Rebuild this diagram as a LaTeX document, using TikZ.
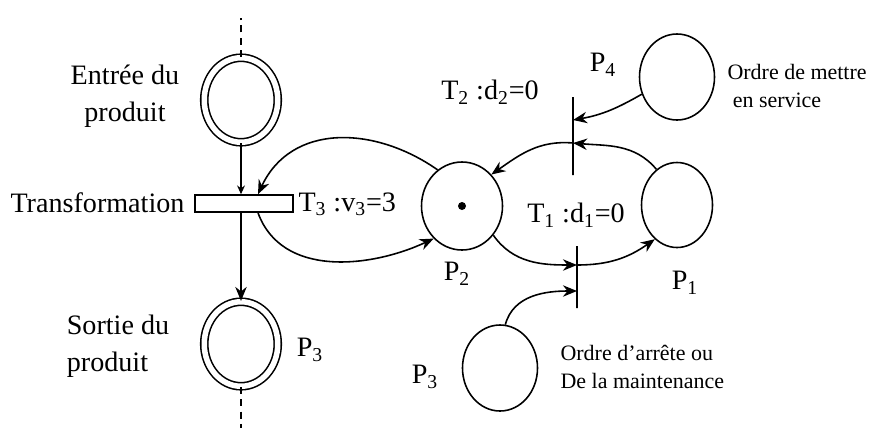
\documentclass[tikz,border=0pt]{standalone}
\usepackage{fontspec}
\setmainfont{Liberation Serif}
\usetikzlibrary{arrows.meta,shapes.geometric}

\begin{document}
\begin{tikzpicture}[>={Stealth[length=8pt,width=6.5pt]}, line width=0.9pt,
  place/.style={draw, ellipse, minimum width=1.5cm, minimum height=1.72cm, inner sep=0pt},
  inplace/.style={place, double, double distance=1.1mm, minimum width=1.47cm, minimum height=1.69cm},
  bar/.style={draw, rectangle, minimum width=0pt, inner sep=0pt},
  lbl/.style={font=\fontsize{16}{21}\selectfont, inner sep=1pt},
  note/.style={font=\fontsize{12.5}{15.5}\selectfont, inner sep=1pt, align=left}]
\useasboundingbox (0,0) rectangle (17.44,8.56);

% places and transitions
\node[inplace] (ent) at (4.82,6.56) {};
\node[inplace] (sor) at (4.82,1.68) {};
\node[bar, minimum width=1.96cm, minimum height=0.34cm] (tr3) at (4.88,4.49) {};
\node[place, minimum width=1.62cm, minimum height=1.76cm] (p2) at (9.24,4.44) {};
\node[place, minimum width=1.42cm, minimum height=1.7cm] (p1) at (13.54,4.46) {};
\node[place] (p4) at (13.54,7.02) {};
\node[place] (p3) at (10.0,1.2) {};
\node[bar, minimum height=1.56cm] (tr2) at (11.46,5.84) {};
\node[bar, minimum height=1.24cm] (tr1) at (11.54,3.02) {};
\fill (p2.center) circle (0.08);

\coordinate (top) at (4.82,8.2);
\coordinate (bot) at (4.82,0);
\draw[dashed, dash pattern=on 4pt off 3pt] (ent) -- (top);
\draw[dashed, dash pattern=on 4pt off 3pt] (sor) -- (bot);

% arcs
\draw[-{Stealth[length=5pt,width=4.5pt]}, line width=0.7pt] (ent.south) -- (ent.south |- tr3.north);
\draw[->] (tr3.south -| sor.north) -- (sor.north);
\draw[->] (p2.124) to[out=145, in=65, looseness=1.1] ([xshift=2.8mm]tr3.north);
\draw[->] ([xshift=2.8mm]tr3.south) to[out=-70, in=205] (p2.229);
\draw[->] (p1.120) to[out=130, in=-5] ([yshift=-1.4mm]tr2.center);
\draw[->] ([yshift=-1.4mm]tr2.center) to[out=175, in=35] (p2.47);
\draw[->] (p2.-43) to[out=-55, in=180] ([yshift=2.4mm]tr1.center);
\draw[->] ([yshift=2.4mm]tr1.center) to[out=0, in=215] (p1.237);
\draw[->] (p4.206) to[out=210, in=10] ([yshift=3.2mm]tr2.center);
\draw[->] (p3.83) to[out=75, in=180] ([yshift=-2.8mm]tr1.center);

% labels
\node[lbl, align=center] (entl) at (2.5,6.64) {Entrée du\\produit};
\node[lbl, anchor=east] (trl) at (3.74,4.5) {Transformation};
\node[lbl, anchor=west] (t3l) at (5.92,4.47) {T\textsubscript{3} :v\textsubscript{3}=3};
\node[lbl, align=left] (sorl) at (2.36,1.64) {Sortie du\\produit};
\node[lbl] (p3l) at (6.2,1.56) {P\textsubscript{3}};
\node[lbl] (p2l) at (9.14,3.08) {P\textsubscript{2}};
\node[lbl] (t2l) at (9.8,6.72) {T\textsubscript{2} :d\textsubscript{2}=0};
\node[lbl] (p4l) at (12.06,7.26) {P\textsubscript{4}};
\node[lbl] (t1l) at (11.52,4.26) {T\textsubscript{1} :d\textsubscript{1}=0};
\node[lbl] (p1l) at (13.7,2.9) {P\textsubscript{1}};
\node[lbl] (p3bl) at (8.5,1.02) {P\textsubscript{3}};
\node[note, anchor=west] (ordre1) at (14.5,6.84) {Ordre de mettre\\\hspace*{3pt}en service};
\node[note, anchor=west] (ordre2) at (11.16,1.22) {Ordre d’arrête ou\\De la maintenance};
\end{tikzpicture}
\end{document}
